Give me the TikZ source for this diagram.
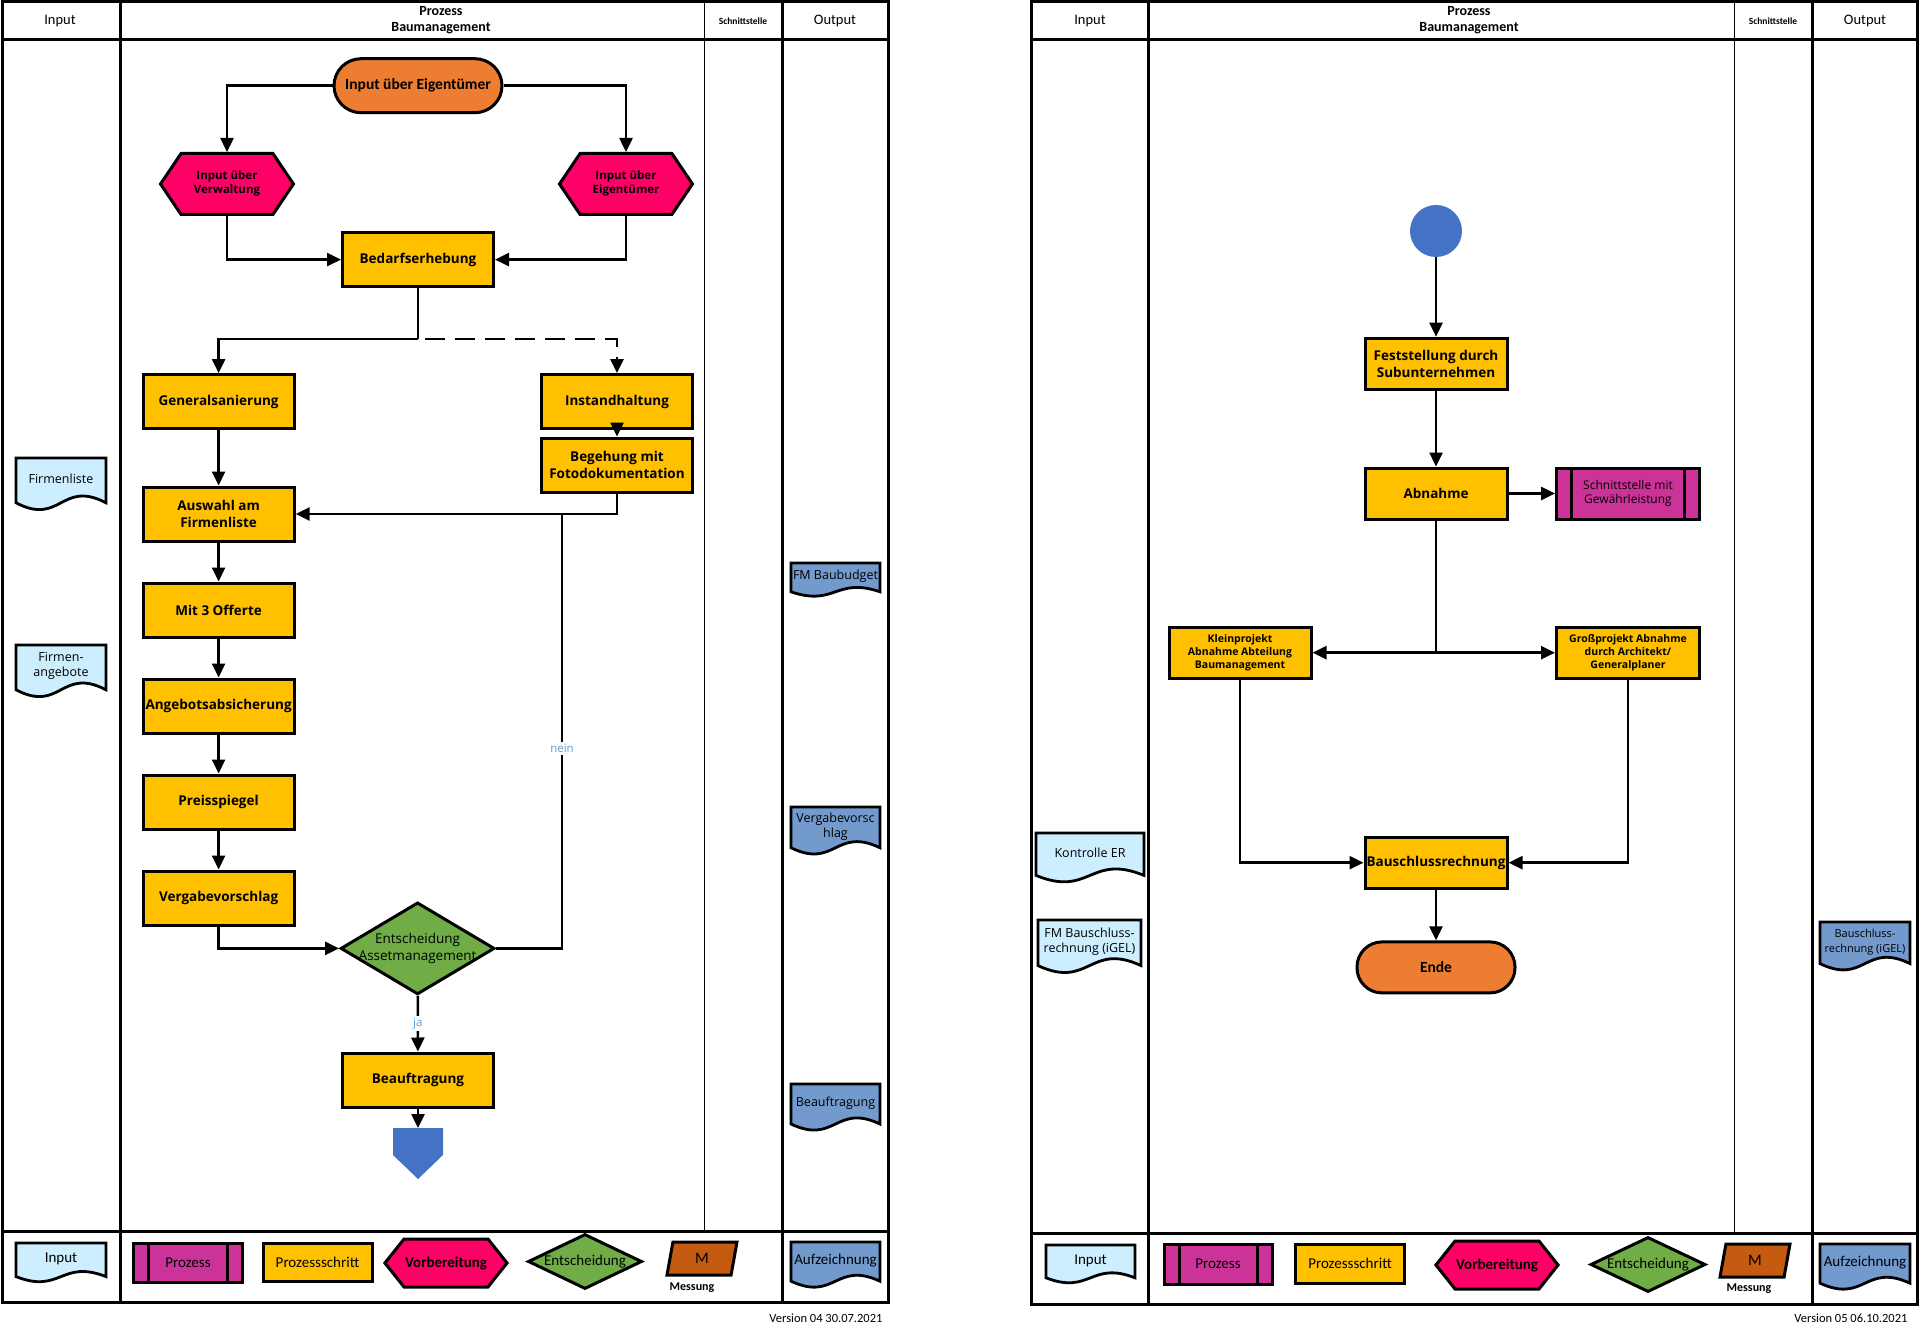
\documentclass[tikz,border=0pt]{standalone}
\usepackage{fontspec}
\setmainfont{Carlito}
\newfontfamily\boxfont{Open Sans}
\usetikzlibrary{arrows.meta, shapes.geometric, shapes.symbols, shapes.misc, calc, positioning}

\definecolor{pillorange}{HTML}{ED7D31}
\definecolor{prepred}{HTML}{FF0066}
\definecolor{stepgold}{HTML}{FFC000}
\definecolor{decgreen}{HTML}{70AD47}
\definecolor{connblue}{HTML}{4472C4}
\definecolor{inblue}{HTML}{CCEEFF}
\definecolor{outblue}{HTML}{729ACD}
\definecolor{procmag}{HTML}{CC3399}
\definecolor{measbrown}{HTML}{C55A11}
\definecolor{labblue}{HTML}{5B9BD5}

\newcommand{\stepfont}{\boxfont\bfseries\fontsize{13.5}{16.5}\selectfont}
\newcommand{\smallstepfont}{\boxfont\bfseries\fontsize{10.5}{13}\selectfont}
\newcommand{\docfont}{\boxfont\fontsize{12.5}{15}\selectfont}
\newcommand{\smalldocfont}{\boxfont\fontsize{11}{13.5}\selectfont}
\newcommand{\legendfont}{\fontsize{15}{17}\selectfont}

% document symbol: name, left, top, width, height, colour, text
\newcommand{\docshape}[7]{%
  \draw[line width=2.8pt, fill=#6] (#2,#3) -- ({#2+#4},#3) -- ({#2+#4},{#3+0.8*#5})
    .. controls ({#2+0.5*#4},{#3+0.38*#5}) and ({#2+0.5*#4},{#3+1.22*#5}) .. (#2,{#3+0.8*#5}) -- cycle;
  \node[doctext] (#1) at ({#2+0.5*#4},{#3+0.38*#5}) {#7};
}

\tikzset{
  frame/.style={line width=3pt},
  thinline/.style={line width=1pt},
  head/.style={font=\fontsize{14.5}{16}\selectfont, align=center},
  stepbox/.style={draw, line width=3pt, fill=stepgold, minimum width=151pt, minimum height=54pt, inner sep=1pt, align=center, font=\stepfont},
  pill/.style={draw, line width=3pt, fill=pillorange, rounded corners=27pt, minimum width=168pt, minimum height=54pt, font=\bfseries\fontsize{15.5}{18}\selectfont},
  prephex/.style={draw, line width=3pt, fill=prepred, signal, signal to=east and west, signal pointer angle=112, minimum width=133pt, minimum height=61pt, inner sep=1pt, align=center, font=\boxfont\bfseries\fontsize{11.5}{14}\selectfont},
  decision/.style={draw, line width=3pt, fill=decgreen, diamond, aspect=2, minimum width=154pt, minimum height=92pt, inner sep=0pt},
  procbox/.style={draw, line width=3pt, fill=procmag, minimum width=143pt, minimum height=51pt, inner sep=1pt, align=center,
    path picture={\draw[line width=3pt] ([xshift=15pt]path picture bounding box.north west) -- ([xshift=15pt]path picture bounding box.south west)
      ([xshift=-15pt]path picture bounding box.north east) -- ([xshift=-15pt]path picture bounding box.south east);}},
  measure/.style={draw, line width=3pt, fill=measbrown, trapezium, trapezium left angle=60, trapezium right angle=120, trapezium stretches body, minimum width=70pt, minimum height=33pt, inner sep=0pt, font=\fontsize{16}{18}\selectfont},
  doctext/.style={align=center, inner sep=0pt, font=\docfont},
  flow/.style={line width=2.5pt, -{Triangle[length=14pt,width=13pt]}},
  link/.style={line width=2.5pt},
  answer/.style={fill=white, text=labblue, inner sep=2pt, font=\boxfont\fontsize{11.5}{13}\selectfont},
}

\begin{document}
\begin{tikzpicture}[x=1pt, y=-1pt]
\useasboundingbox (0,0) rectangle (1920,1332);

% left sheet
\draw[frame] (2,2) rectangle (888,1302);
\draw[frame] (2,40) -- (888,40) (2,1231) -- (888,1231) (120,2) -- (120,1302) (782.5,2) -- (782.5,1302);
\draw[thinline] (704,2) -- (704,1231);

\node[head] (inL) at (60,21) {Input};
\node[head, font=\bfseries\fontsize{14}{16}\selectfont] (prozL) at (441,20) {Prozess\\Baumanagement};
\node[head, font=\bfseries\fontsize{9.5}{10}\selectfont] (schL) at (743,21) {Schnittstelle};
\node[head] (outL) at (835,21) {Output};

\node[pill] (start) at (418,85.7) {Input über Eigentümer};
\node[prephex] (hexV) at (227,184) {Input über\\Verwaltung};
\node[prephex] (hexE) at (626,184) {Input über\\Eigentümer};
\node[stepbox] (bedarf) at (418,259.6) {Bedarfserhebung};
\node[stepbox] (gen) at (218.6,401.6) {Generalsanierung};
\node[stepbox] (inst) at (617,401.6) {Instandhaltung};
\node[stepbox] (beg) at (617,465) {Begehung mit\\Fotodokumentation};
\node[stepbox] (auswahl) at (218.6,514) {Auswahl am\\Firmenliste};
\node[stepbox] (offerte) at (218.6,610) {Mit 3 Offerte};
\node[stepbox] (angebot) at (218.6,706) {Angebotsabsicherung};
\node[stepbox] (preis) at (218.6,802) {Preisspiegel};
\node[stepbox] (verg) at (218.6,898) {Vergabevorschlag};
\node[decision] (dec) at (417.6,948.4) {};
\node[align=center, inner sep=0pt, font=\boxfont\fontsize{13.5}{16.5}\selectfont] (dectext) at (dec) {Entscheidung\\Assetmanagement};
\node[stepbox] (beauf) at (418,1080) {Beauftragung};
\fill[connblue] (393,1128) -- (443,1128) -- (443,1155) -- (418,1179) -- (393,1155) -- cycle;
\coordinate (offpage) at (418,1128);
\coordinate (split) at (418,339);
\coordinate (neinjoin) at (562,514);

\draw[flow] (start.west) -| (hexV);
\draw[flow] (start.east) -| (hexE);
\draw[flow] (hexV) |- (bedarf);
\draw[flow] (hexE) |- (bedarf);
\draw[link] (bedarf) -- (split);
\draw[flow] (split) -| (gen);
\draw[flow, dash pattern=on 20pt off 10pt] ([xshift=7pt]split) -| (inst);
\draw[flow] (inst) -- (beg);
\draw[flow] (gen) -- (auswahl);
\draw[flow] (beg) |- (auswahl);
\draw[flow] (auswahl) -- (offerte);
\draw[flow] (offerte) -- (angebot);
\draw[flow] (angebot) -- (preis);
\draw[flow] (preis) -- (verg);
\draw[flow] (verg) |- (dec);
\draw[link] (dec.east) -| node[answer, pos=0.73] (nein) {nein} (neinjoin);
\draw[flow] (dec) -- node[answer] (ja) {ja} (beauf);
\draw[flow] (beauf) -- (offpage);

\docshape{firmenliste}{16}{458}{90}{56}{inblue}{Firmenliste}
\docshape{firmenangebote}{16}{645}{90}{56}{inblue}{Firmen-\\angebote}
\docshape{baubudget}{791}{563}{89}{36}{outblue}{FM Baubudget}
\docshape{vergout}{791}{807}{89}{51}{outblue}{Vergabevorsc\\hlag}
\docshape{beaufout}{791}{1084}{89}{50}{outblue}{Beauftragung}

% left legend
\docshape{legin}{16}{1243}{90}{42}{inblue}{\normalfont\legendfont Input}
\node[procbox, minimum width=109pt, minimum height=39pt, font=\legendfont] (legproz) at (188,1262.5) {Prozess};
\node[stepbox, minimum width=109pt, minimum height=38pt, font=\legendfont] (legstep) at (317.5,1262) {Prozessschritt};
\node[prephex, minimum width=114pt, minimum height=48pt, signal pointer angle=103, font=\bfseries\legendfont] (legprep) at (446,1263) {Vorbereitung};
\node[decision, minimum width=114pt, minimum height=55pt, aspect=2.1, font=\legendfont] (legdec) at (585,1261.5) {Entscheidung};
\node[measure] (legmess) at (702,1258.5) {M};
\node[font=\bfseries\fontsize{12}{14}\selectfont] (legmesstext) at (692,1288) {Messung};
\docshape{legout}{791}{1242}{89}{49}{outblue}{\normalfont\legendfont Aufzeichnung}
\node[anchor=east, font=\fontsize{12.5}{14}\selectfont] (versL) at (886,1318) {Version 04 30.07.2021};

% right sheet
\draw[frame] (1031,2) rectangle (1917.5,1304);
\draw[frame] (1031,40) -- (1917.5,40) (1031,1233) -- (1917.5,1233) (1148.6,2) -- (1148.6,1304) (1812,2) -- (1812,1304);
\draw[thinline] (1734,2) -- (1734,1233);

\node[head] (inR) at (1090,21) {Input};
\node[head, font=\bfseries\fontsize{14}{16}\selectfont] (prozR) at (1469,20) {Prozess\\Baumanagement};
\node[head, font=\bfseries\fontsize{9.5}{10}\selectfont] (schR) at (1773,21) {Schnittstelle};
\node[head] (outR) at (1865,21) {Output};

\node[circle, fill=connblue, minimum size=52pt, inner sep=0pt] (startdot) at (1436,231) {};
\node[stepbox, minimum width=142pt, minimum height=51pt] (fest) at (1436,363.7) {Feststellung durch\\Subunternehmen};
\node[stepbox, minimum width=142pt, minimum height=51pt] (abn) at (1436,493.5) {Abnahme};
\node[procbox, font=\boxfont\fontsize{12}{14.5}\selectfont] (schnitt) at (1628,493.5) {Schnittstelle mit\\Gewährleistung};
\node[stepbox, minimum width=142pt, minimum height=51pt, font=\smallstepfont] (klein) at (1240,652.7) {Kleinprojekt\\Abnahme Abteilung\\Baumanagement};
\node[stepbox, minimum width=143pt, minimum height=51pt, font=\smallstepfont] (gross) at (1628,652.7) {Großprojekt Abnahme\\durch Architekt/\\Generalplaner};
\node[stepbox, minimum width=142pt, minimum height=51pt] (schluss) at (1436,862.7) {Bauschlussrechnung};
\node[pill, minimum width=158pt, minimum height=51pt, rounded corners=25pt] (ende) at (1436,967.4) {Ende};
\coordinate (fork) at (1436,652.7);

\draw[flow] (startdot) -- (fest);
\draw[flow] (fest) -- (abn);
\draw[flow] (abn) -- (schnitt);
\draw[link] (abn) -- (fork);
\draw[flow] (fork) -- (klein);
\draw[flow] (fork) -- (gross);
\draw[flow] (klein) |- (schluss);
\draw[flow] (gross) |- (schluss);
\draw[flow] (schluss) -- (ende);

\docshape{kontrolle}{1036}{833}{108}{53}{inblue}{Kontrolle ER}
\docshape{igelin}{1038}{920}{103}{57}{inblue}{FM Bauschluss-\\rechnung (iGEL)}
\docshape{igelout}{1820}{922}{90}{52}{outblue}{\smalldocfont Bauschluss-\\\smalldocfont rechnung (iGEL)}

% right legend
\docshape{legin2}{1046}{1245}{89}{41}{inblue}{\normalfont\legendfont Input}
\node[procbox, minimum width=108pt, minimum height=40pt, font=\legendfont] (legproz2) at (1218,1264) {Prozess};
\node[stepbox, minimum width=109pt, minimum height=39pt, font=\legendfont] (legstep2) at (1350,1263.5) {Prozessschritt};
\node[prephex, minimum width=114pt, minimum height=48pt, signal pointer angle=103, font=\bfseries\legendfont] (legprep2) at (1497,1265) {Vorbereitung};
\node[decision, minimum width=115pt, minimum height=55pt, aspect=2.1, font=\legendfont] (legdec2) at (1648,1264.5) {Entscheidung};
\node[measure] (legmess2) at (1755,1260.5) {M};
\node[font=\bfseries\fontsize{12}{14}\selectfont] (legmesstext2) at (1749,1289) {Messung};
\docshape{legout2}{1820}{1244}{90}{49}{outblue}{\normalfont\legendfont Aufzeichnung}
\node[anchor=east, font=\fontsize{12.5}{14}\selectfont] (versR) at (1911,1318) {Version 05 06.10.2021};
\end{tikzpicture}
\end{document}
